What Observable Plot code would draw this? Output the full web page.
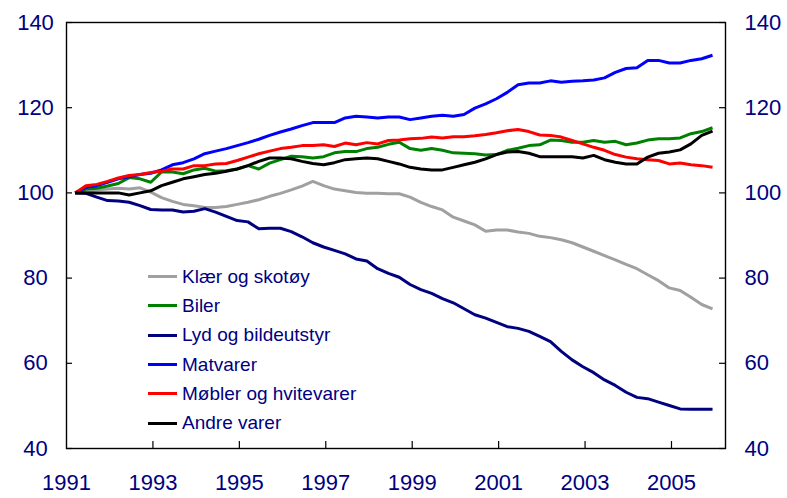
<!DOCTYPE html>
<html>
<head>
<meta charset="utf-8">
<script src="https://cdn.jsdelivr.net/npm/d3@7"></script>
<script src="https://cdn.jsdelivr.net/npm/@observablehq/plot@0.6"></script>
<style>
  body { margin: 0; background: #fff; }
  #chart { position: relative; width: 787px; height: 498px; font-family: "Liberation Sans", Arial, sans-serif; }
  #legend { position: absolute; left: 148px; top: 262px; }
  .row { display: flex; align-items: center; height: 29.3px; color: #000080; font-size: 19px; white-space: nowrap; }
  .sw { width: 29px; height: 3px; margin-right: 5px; }
</style>
</head>
<body>
<div id="chart"><div id="legend"></div></div>
<script>
// Quarterly observations 1991K1 - 2005K4 (index, 1991K1 = 100)
const quarters = d3.range(1991, 2006).flatMap(y => [1, 2, 3, 4].map(q => `${y}K${q}`));

const seriesNames = ["Klær og skotøy", "Biler", "Lyd og bildeutstyr", "Matvarer", "Møbler og hvitevarer", "Andre varer"];
const seriesColors = ["#a0a0a0", "#008000", "#000080", "#0000ff", "#ff0000", "#000000"];

const klaer = [100,100.4,100.7,100.9,101.1,100.9,101.2,100.2,98.9,98.0,
  97.3,97.0,96.6,96.6,96.8,97.3,97.8,98.4,99.2,99.9,
  100.7,101.6,102.7,101.7,100.9,100.5,100.1,99.9,99.9,99.8,
  99.8,99.0,97.8,96.8,96.0,94.3,93.4,92.5,91.0,91.3,
  91.3,90.8,90.5,89.8,89.5,89.0,88.3,87.3,86.3,85.3,
  84.3,83.2,82.2,80.8,79.4,77.7,77.1,75.5,73.8,72.8];

const biler = [100,100.9,101.1,101.6,102.2,103.6,103.3,102.5,104.9,104.9,
  104.5,105.4,105.8,105.1,105.2,105.6,106.4,105.6,107.0,107.8,
  108.6,108.5,108.2,108.5,109.4,109.7,109.7,110.4,110.7,111.4,
  111.9,110.4,110.0,110.4,110.0,109.4,109.3,109.2,108.9,109.0,
  110.0,110.5,111.1,111.3,112.4,112.3,111.9,111.9,112.3,111.9,
  112.1,111.3,111.7,112.4,112.7,112.7,112.9,113.9,114.4,115.3];

const lyd = [100,99.9,99.0,98.2,98.1,97.8,97.0,96.1,96.0,96.0,
  95.5,95.7,96.3,95.5,94.5,93.5,93.2,91.6,91.7,91.7,
  90.9,89.7,88.3,87.3,86.5,85.7,84.5,84.0,82.2,81.1,
  80.2,78.5,77.3,76.4,75.2,74.2,72.8,71.4,70.6,69.6,
  68.6,68.2,67.5,66.3,65.1,62.8,60.8,59.2,57.8,56.1,
  54.8,53.2,52.0,51.7,50.9,50.1,49.3,49.2,49.2,49.2];

const matvarer = [100,101.3,101.7,102.5,103.3,103.8,104.3,104.6,105.4,106.6,
  107.1,108.0,109.2,109.8,110.4,111.1,111.8,112.6,113.5,114.3,
  115.0,115.8,116.5,116.5,116.5,117.6,118.0,117.8,117.6,117.8,
  117.8,117.2,117.6,118.0,118.2,118.0,118.4,119.9,120.9,122.1,
  123.6,125.4,125.8,125.8,126.3,126.0,126.2,126.3,126.5,127.0,
  128.3,129.2,129.4,131.1,131.1,130.5,130.5,131.1,131.5,132.3];

const mobler = [100,101.7,102.0,102.7,103.5,104.1,104.3,104.8,105.1,105.6,
  105.6,106.4,106.4,106.8,106.9,107.6,108.4,109.2,109.8,110.4,
  110.7,111.1,111.1,111.3,110.9,111.7,111.3,111.8,111.5,112.3,
  112.4,112.7,112.8,113.1,112.9,113.2,113.2,113.4,113.7,114.1,
  114.6,114.9,114.4,113.6,113.5,113.1,112.3,111.5,110.7,110.0,
  109.0,108.4,108.0,107.8,107.6,106.8,107.0,106.6,106.4,106.0];

const andre = [100,100,100,100,100,99.5,100,100.5,101.7,102.5,
  103.3,103.8,104.3,104.6,105.1,105.6,106.4,107.4,108.2,108.2,
  108.0,107.4,106.9,106.6,107.1,107.8,108.0,108.2,108.0,107.4,
  106.8,106.0,105.6,105.4,105.4,106.0,106.6,107.2,108.0,109.0,
  109.6,109.7,109.3,108.5,108.5,108.5,108.5,108.2,108.8,107.8,
  107.2,106.8,106.8,108.4,109.3,109.6,110.1,111.5,113.5,114.5];

const xTickLabels = [1991, 1993, 1995, 1997, 1999, 2001, 2003, 2005];
const xTickMarks = [1993, 1995, 1997, 1999, 2001, 2003, 2005];
const yTicks = [40, 60, 80, 100, 120, 140];

// quarter label -> position on a continuous year axis
const qpos = s => { const [y, q] = s.split("K").map(Number); return y + (q - 0.2) / 4; };

const seriesValues = [klaer, biler, lyd, matvarer, mobler, andre];
const rows = seriesNames.flatMap((name, k) =>
  quarters.map((qq, i) => ({series: name, t: qpos(qq), value: seriesValues[k][i]})));

const navy = "#000080";
const font = "'Liberation Sans', Arial, sans-serif";

const W = 787, H = 498, mL = 66, mR = 62, mT = 22, mB = 50;
const frameW = W - mL - mR, frameH = H - mT - mB, tickLen = 6;

const chart = Plot.plot({
  width: W,
  height: H,
  marginLeft: mL,
  marginRight: mR,
  marginTop: mT,
  marginBottom: mB,
  style: {fontFamily: font, background: "#fff", overflow: "visible"},
  x: {domain: [1991, 2006.25], label: null},
  y: {domain: [40, 140], label: null},
  color: {domain: seriesNames, range: seriesColors},
  marks: [
    ...seriesNames.map(name => Plot.line(rows.filter(d => d.series === name), {
      x: "t", y: "value", stroke: "series", strokeWidth: 3, strokeLinejoin: "round", strokeLinecap: "butt"
    })),
    // inward tick marks
    Plot.tickY(yTicks, {y: d => d, insetRight: frameW - tickLen, stroke: "#000", strokeWidth: 1.2}),
    Plot.tickY(yTicks, {y: d => d, insetLeft: frameW - tickLen, stroke: "#000", strokeWidth: 1.2}),
    Plot.tickX(xTickMarks, {x: d => d, insetTop: frameH - tickLen - 1, stroke: "#000", strokeWidth: 1.2}),
    Plot.frame({stroke: "#000", strokeWidth: 1.4}),
    Plot.axisY(yTicks, {anchor: "left", tickSize: 0, tickPadding: 31, textAnchor: "middle",
      fontSize: 22, fill: navy, label: null}),
    Plot.axisY(yTicks, {anchor: "right", tickSize: 0, tickPadding: 19,
      fontSize: 22, fill: navy, label: null}),
    Plot.axisX(xTickLabels, {anchor: "bottom", tickSize: 0, tickPadding: 26, tickFormat: d => String(d),
      fontSize: 22, fill: navy, label: null})
  ]
});

const host = document.getElementById("chart");
host.insertBefore(chart, host.firstChild);

const legend = document.getElementById("legend");
seriesNames.forEach((name, k) => {
  const row = document.createElement("div");
  row.className = "row";
  const sw = document.createElement("span");
  sw.className = "sw";
  sw.style.background = seriesColors[k];
  const tx = document.createElement("span");
  tx.textContent = name;
  row.appendChild(sw);
  row.appendChild(tx);
  legend.appendChild(row);
});
</script>
</body>
</html>
